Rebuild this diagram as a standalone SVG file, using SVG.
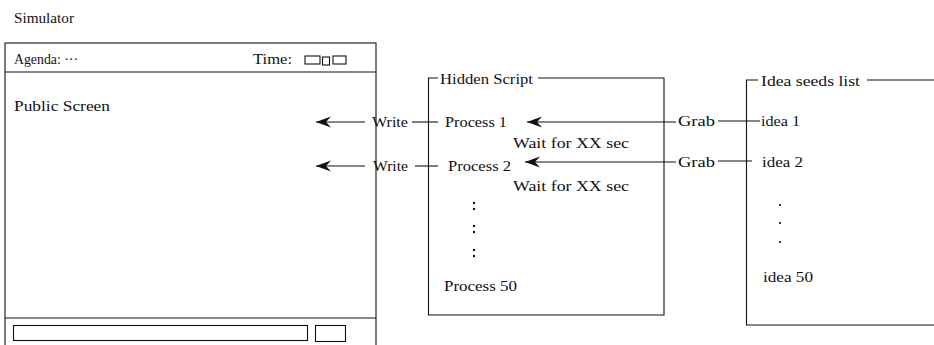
<svg xmlns="http://www.w3.org/2000/svg" width="934" height="345" viewBox="0 0 934 345">
<style>
text{font-family:"Liberation Serif","Times New Roman",serif;font-size:14.5px;fill:#111}
.ln{fill:none;stroke:#111;stroke-width:1.1}
.dot{fill:#111}
</style>
<defs>
<marker id="ah" markerUnits="userSpaceOnUse" markerWidth="16" markerHeight="12" refX="15" refY="6" orient="auto">
<path d="M15,6 L0,0.5 L5,6 L0,11.5 Z" fill="#111"/>
</marker>
</defs>
<rect width="934" height="345" fill="#fff"/>
<text x="14" y="23" textLength="60" lengthAdjust="spacingAndGlyphs">Simulator</text>

<g id="simulator">
<rect class="ln" x="5" y="43" width="371" height="310"/>
<line class="ln" x1="5" y1="72" x2="376" y2="72"/>
<text x="14" y="64" textLength="64" lengthAdjust="spacingAndGlyphs">Agenda: ···</text>
<text x="253" y="64" textLength="39" lengthAdjust="spacingAndGlyphs">Time:</text>
<rect class="ln" x="305" y="56" width="15" height="8"/>
<rect class="ln" x="322.5" y="57" width="7" height="8"/>
<rect class="ln" x="333" y="56" width="13" height="8"/>
<text x="14" y="111" textLength="96" lengthAdjust="spacingAndGlyphs">Public Screen</text>
<line class="ln" x1="5" y1="318" x2="376" y2="318"/>
<rect class="ln" x="13.5" y="325.5" width="294" height="15"/>
<rect class="ln" x="315.5" y="325.5" width="30" height="16"/>
</g>

<g id="hidden-script">
<path class="ln" d="M438,78 H428.5 V315 H664 V78 H538"/>
<text x="440" y="84" textLength="93" lengthAdjust="spacingAndGlyphs">Hidden Script</text>
<text x="445" y="127" textLength="62" lengthAdjust="spacingAndGlyphs">Process 1</text>
<text x="513" y="148" textLength="116" lengthAdjust="spacingAndGlyphs">Wait for XX sec</text>
<text x="448" y="171" textLength="63" lengthAdjust="spacingAndGlyphs">Process 2</text>
<text x="513" y="191" textLength="116" lengthAdjust="spacingAndGlyphs">Wait for XX sec</text>
<circle class="dot" cx="474" cy="203" r="1.2"/>
<circle class="dot" cx="474" cy="209" r="1.2"/>
<circle class="dot" cx="474" cy="226" r="1.2"/>
<circle class="dot" cx="474" cy="232" r="1.2"/>
<circle class="dot" cx="474" cy="250" r="1.2"/>
<circle class="dot" cx="474" cy="256" r="1.2"/>
<text x="444" y="291" textLength="73" lengthAdjust="spacingAndGlyphs">Process 50</text>
</g>

<g id="idea-seeds">
<path class="ln" d="M758,80 H746.5 V325 H934"/>
<line class="ln" x1="867" y1="80" x2="934" y2="80"/>
<text x="761" y="86" textLength="99" lengthAdjust="spacingAndGlyphs">Idea seeds list</text>
<text x="761" y="126" textLength="39" lengthAdjust="spacingAndGlyphs">idea 1</text>
<text x="762" y="167" textLength="41" lengthAdjust="spacingAndGlyphs">idea 2</text>
<circle class="dot" cx="780" cy="205" r="1.1"/>
<circle class="dot" cx="780" cy="223" r="1.1"/>
<circle class="dot" cx="780" cy="242" r="1.1"/>
<text x="763" y="282" textLength="50" lengthAdjust="spacingAndGlyphs">idea 50</text>
</g>

<g id="connectors">
<line class="ln" x1="365" y1="122" x2="316" y2="122" marker-end="url(#ah)"/>
<text x="372" y="127" textLength="36" lengthAdjust="spacingAndGlyphs">Write</text>
<line class="ln" x1="412" y1="122" x2="438" y2="122"/>
<line class="ln" x1="365" y1="166" x2="316" y2="166" marker-end="url(#ah)"/>
<text x="373" y="171" textLength="35" lengthAdjust="spacingAndGlyphs">Write</text>
<line class="ln" x1="415" y1="166" x2="438" y2="166"/>
<line class="ln" x1="676" y1="122" x2="527" y2="122" marker-end="url(#ah)"/>
<text x="678" y="126" textLength="37" lengthAdjust="spacingAndGlyphs">Grab</text>
<line class="ln" x1="718" y1="121" x2="760" y2="121"/>
<line class="ln" x1="676" y1="162" x2="525" y2="162" marker-end="url(#ah)"/>
<text x="678" y="167" textLength="37" lengthAdjust="spacingAndGlyphs">Grab</text>
<line class="ln" x1="718" y1="161" x2="752" y2="161"/>
</g>
</svg>
